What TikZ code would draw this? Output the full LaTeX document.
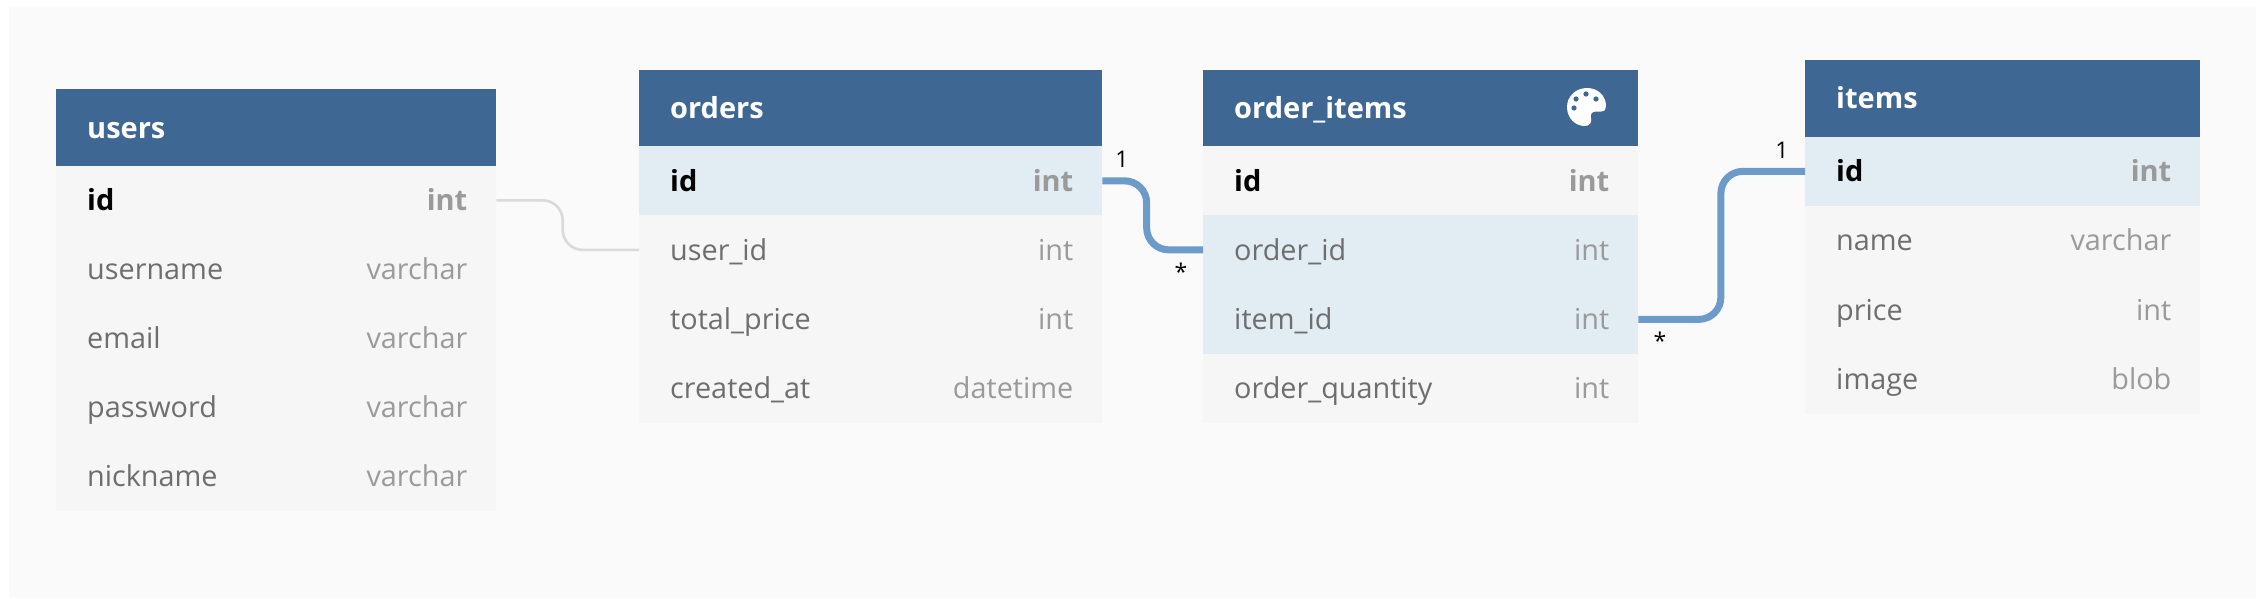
\documentclass[tikz,border=0pt]{standalone}
\usepackage{fontspec}
\setmainfont{Open Sans}
\usetikzlibrary{calc}
\definecolor{bgc}{HTML}{FAFAFA}
\definecolor{headc}{HTML}{3F6793}
\definecolor{rowc}{HTML}{F6F6F6}
\definecolor{hlc}{HTML}{E1ECF3}
\definecolor{linec}{HTML}{6C9BC9}
\definecolor{softc}{HTML}{DADADA}
\definecolor{namec}{HTML}{6E6E6E}
\definecolor{typec}{HTML}{9A9A9A}
\tikzset{
  x=1pt,y=-1pt,
  tablehead/.style={fill=headc,draw=none,inner sep=0pt,anchor=north west,minimum height=76.5pt},
  tablerow/.style={draw=none,inner sep=0pt,anchor=north west,minimum height=69.3pt},
  plainrow/.style={tablerow,fill=rowc},
  hlrow/.style={tablerow,fill=hlc},
  headtext/.style={text=white,font=\fontsize{29}{32}\selectfont\bfseries,anchor=base west,inner sep=0pt},
  nametext/.style={text=namec,font=\fontsize{28.8}{32}\selectfont,anchor=base west,inner sep=0pt},
  typetext/.style={text=typec,font=\fontsize{28.8}{32}\selectfont,anchor=base east,inner sep=0pt},
  keyname/.style={text=black,font=\fontsize{29}{32}\selectfont\bfseries,anchor=base west,inner sep=0pt},
  keytype/.style={text=typec,font=\fontsize{29}{32}\selectfont\bfseries,anchor=base east,inner sep=0pt},
  reflabel/.style={text=black,font=\fontsize{23}{26}\selectfont,inner sep=0pt},
  strongline/.style={draw=linec,line width=7pt,rounded corners=22pt},
  softline/.style={draw=softc,line width=2.6pt,rounded corners=20pt},
}
% #1 id, #2 row style, #3 x, #4 y, #5 width, #6 name style, #7 type style, #8 name, #9 type
\newcommand{\tablerowat}[9]{%
  \node[#2,minimum width=#5pt] (#1) at (#3,#4) {};
  \node[#6] (#1-n) at (#3+31,#4+45) {#8};
  \node[#7] (#1-t) at (#3+#5-28.5,#4+45) {#9};
}
\begin{document}
\begin{tikzpicture}
\useasboundingbox (0,0) rectangle (2256,598);
\fill[white] (0,0) rectangle (2256,598);
\fill[bgc] (9,7) rectangle (2256,598);

% users
\node[tablehead,minimum width=440pt] (users) at (56,89) {};
\node[headtext] (users-title) at (87,138) {users};
\tablerowat{u1}{plainrow}{56}{165.5}{440}{keyname}{keytype}{id}{int}
\tablerowat{u2}{plainrow}{56}{234.5}{440}{nametext}{typetext}{username}{varchar}
\tablerowat{u3}{plainrow}{56}{303.5}{440}{nametext}{typetext}{email}{varchar}
\tablerowat{u4}{plainrow}{56}{372.5}{440}{nametext}{typetext}{password}{varchar}
\tablerowat{u5}{plainrow}{56}{441.5}{440}{nametext}{typetext}{nickname}{varchar}

% orders
\node[tablehead,minimum width=463pt] (orders) at (639,70) {};
\node[headtext] (orders-title) at (670,118) {orders};
\tablerowat{o1}{hlrow}{639}{146}{463}{keyname}{keytype}{id}{int}
\tablerowat{o2}{plainrow}{639}{215}{463}{nametext}{typetext}{user\_id}{int}
\tablerowat{o3}{plainrow}{639}{284.5}{463}{nametext}{typetext}{total\_price}{int}
\tablerowat{o4}{plainrow}{639}{353.5}{463}{nametext}{typetext}{created\_at}{datetime}

% order_items
\node[tablehead,minimum width=435pt] (oi) at (1203,70) {};
\node[headtext] (oi-title) at (1234,118) {order\_items};
\tablerowat{i1}{plainrow}{1203}{146}{435}{keyname}{keytype}{id}{int}
\tablerowat{i2}{hlrow}{1203}{215}{435}{nametext}{typetext}{order\_id}{int}
\tablerowat{i3}{hlrow}{1203}{284.5}{435}{nametext}{typetext}{item\_id}{int}
\tablerowat{i4}{plainrow}{1203}{353.5}{435}{nametext}{typetext}{order\_quantity}{int}

% palette icon
\fill[white] (1587,88) .. controls (1576,88) and (1567,96) .. (1567,107)
  .. controls (1567,118) and (1575,126) .. (1585,126)
  .. controls (1590,126) and (1592,122) .. (1591,118)
  .. controls (1590,114) and (1592,111.5) .. (1596,111.5)
  -- (1601,111.5) .. controls (1605,111.5) and (1606,109) .. (1606,106)
  .. controls (1606,96) and (1598,88) .. (1587,88) -- cycle;
\fill[headc] (1576,99) circle (2.6) (1586,94) circle (2.6) (1596,99) circle (2.6) (1574,108) circle (2.6);

% items
\node[tablehead,minimum width=395pt] (items) at (1805,60) {};
\node[headtext] (items-title) at (1836,108) {items};
\tablerowat{t1}{hlrow}{1805}{136.5}{395}{keyname}{keytype}{id}{int}
\tablerowat{t2}{plainrow}{1805}{205.5}{395}{nametext}{typetext}{name}{varchar}
\tablerowat{t3}{plainrow}{1805}{275}{395}{nametext}{typetext}{price}{int}
\tablerowat{t4}{plainrow}{1805}{344}{395}{nametext}{typetext}{image}{blob}

% connectors
\coordinate (m1) at ($(u1.east)!.465!(o2.west)$);
\coordinate (m2) at ($(o1.east)!.44!(i2.west)$);
\coordinate (m3) at ($(i3.east)!.495!(t1.west)$);
\draw[softline] (u1.east) -- (u1.east -| m1) -- (o2.west -| m1) -- (o2.west);
\draw[strongline] (o1.east) -- (o1.east -| m2) -- (i2.west -| m2) -- (i2.west);
\draw[strongline] (i3.east) -- (i3.east -| m3) -- (t1.west -| m3) -- (t1.west);

% cardinalities
\node[reflabel] (l1) at (1122,159) {1};
\node[reflabel] (l2) at (1181,272) {*};
\node[reflabel] (l3) at (1660,341) {*};
\node[reflabel] (l4) at (1782,150) {1};
\end{tikzpicture}
\end{document}
